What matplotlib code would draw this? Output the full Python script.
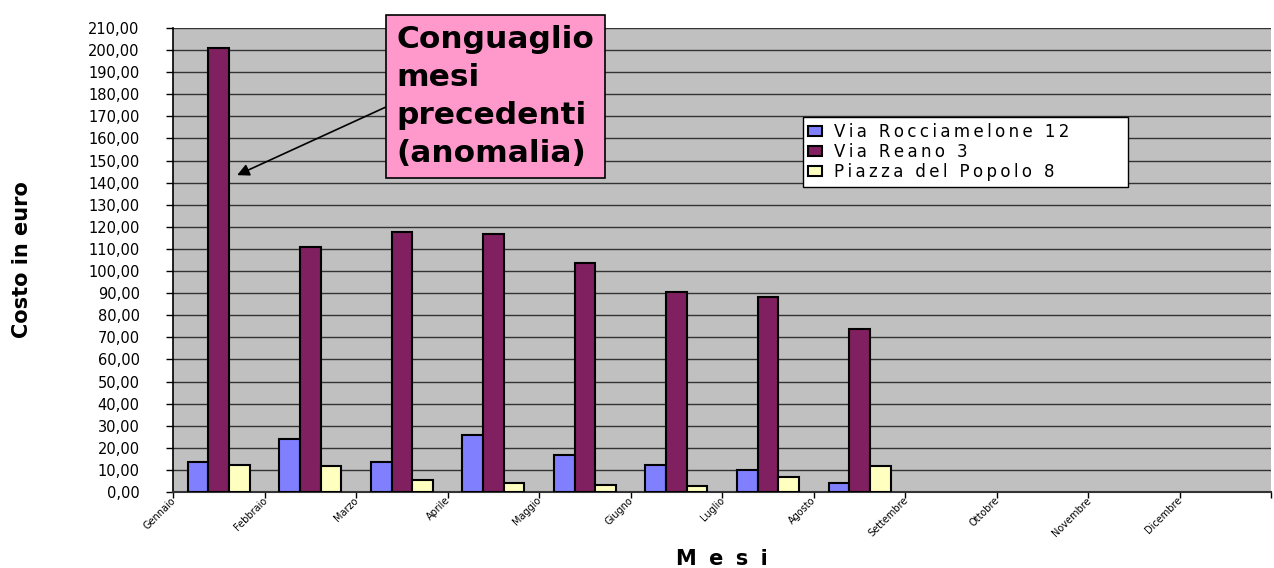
import numpy as np
import matplotlib.pyplot as plt
from matplotlib.ticker import FuncFormatter, MultipleLocator

# dati
mesi = ['Gennaio', 'Febbraio', 'Marzo', 'Aprile', 'Maggio', 'Giugno',
        'Luglio', 'Agosto', 'Settembre', 'Ottobre', 'Novembre', 'Dicembre']
rocciamelone = [13.4, 23.8, 13.4, 25.8, 16.7, 12.2, 10.0, 3.9]
reano = [201.0, 110.9, 117.6, 116.7, 103.6, 90.5, 88.2, 73.8]
popolo = [12.3, 11.6, 5.4, 3.9, 3.2, 2.7, 6.9, 11.9]
serie = ['Via Rocciamelone 12', 'Via Reano 3', 'Piazza del Popolo 8']
colori = ['#8080FF', '#802060', '#FFFFC0']


def largo(s, n=1):
    # testo spaziato come nell'originale
    return ('\u2009' * n).join(s)


fig = plt.figure(figsize=(12.74, 5.68), dpi=100)
ax = fig.add_axes([0.1358, 0.1338, 0.8622, 0.8169])
ax.set_facecolor('#C0C0C0')

w = 0.226
for k, (vals, lab, c) in enumerate(zip([rocciamelone, reano, popolo], serie, colori)):
    x = np.arange(len(vals)) + (k - 1) * w
    etichetta = largo(lab) + (' ' * 10 if k == 0 else '')
    ax.bar(x, vals, width=w, color=c, edgecolor='black', linewidth=1.5,
           label=etichetta, zorder=3)

ax.set_xlim(-0.5, len(mesi) - 0.5)
ax.set_ylim(0, 210)
ax.yaxis.set_major_locator(MultipleLocator(10))
ax.yaxis.set_major_formatter(FuncFormatter(lambda v, p: f'{v:.2f}'.replace('.', ',')))
ax.grid(axis='y', color='#333333', linewidth=1.0, zorder=0)
ax.tick_params(axis='y', labelsize=10.5, length=5, width=1, pad=19)

ax.set_xticks(np.arange(len(mesi) + 1) - 0.5)
ax.set_xticklabels([])
ax.tick_params(axis='x', length=4, width=1)
for i, m in enumerate(mesi):
    ax.text(i - 0.53, -1.5, m, rotation=45, ha='right', va='top',
            rotation_mode='anchor', fontsize=7, transform=ax.transData)

for s in ['top', 'right']:
    ax.spines[s].set_visible(False)
ax.spines['left'].set_linewidth(1.2)
ax.spines['bottom'].set_linewidth(1.5)
ax.spines['bottom'].set_color('#333333')

ax.set_xlabel(largo('Mesi', 3), fontsize=15, fontweight='bold')
ax.xaxis.set_label_coords(0.5, -0.122)
ax.set_ylabel('Costo in euro', fontsize=15, fontweight='bold')
ax.yaxis.set_label_coords(-0.128, 0.5)

leg = ax.legend(loc='upper left', bbox_to_anchor=(0.5655, 0.8255),
                frameon=True, fancybox=False, edgecolor='black', framealpha=1,
                handlelength=0.8, handleheight=0.55, borderpad=0.35,
                labelspacing=0.12, handletextpad=0.75,
                prop={'family': 'DejaVu Sans', 'size': 12})
leg.get_frame().set_linewidth(1.0)

ax.annotate('Conguaglio\nmesi\nprecedenti\n(anomalia)', xy=(0.2, 143.4),
            xytext=(1.94, 146.8), textcoords='data', fontsize=22.5,
            fontweight='bold', ha='left', va='bottom', linespacing=1.38,
            bbox=dict(boxstyle='square,pad=0.33', fc='#FF99CC', ec='black', lw=1.2),
            arrowprops=dict(arrowstyle='-|>', color='black', lw=1.2,
                            mutation_scale=18, shrinkA=0, shrinkB=0,
                            relpos=(0, 0.46)),
            annotation_clip=False, zorder=5)

fig.savefig('out.png', dpi=100)
